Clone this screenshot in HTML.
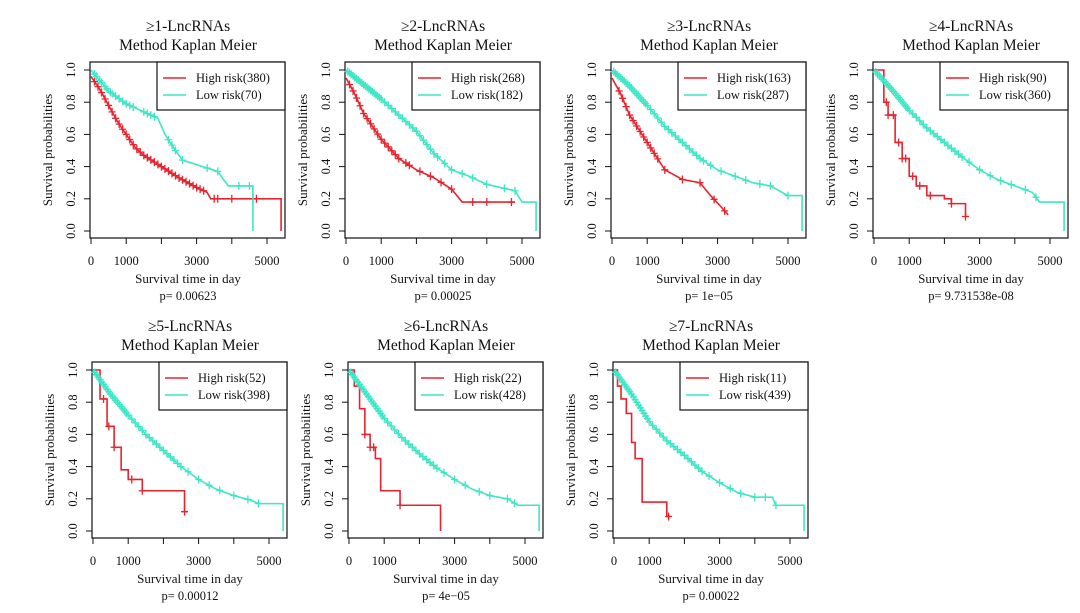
<!DOCTYPE html>
<html><head><meta charset="utf-8"><style>
html,body{margin:0;padding:0;background:#fff;}
svg{display:block;font-family:"Liberation Serif","DejaVu Serif",serif;}
</style></head><body>
<svg id="chart" width="1080" height="613" viewBox="0 0 1080 613"></svg>
<script>
const panelTitles=["≥1-LncRNAs","≥2-LncRNAs","≥3-LncRNAs","≥4-LncRNAs","≥5-LncRNAs","≥6-LncRNAs","≥7-LncRNAs"];
const highCounts=[380,268,163,90,52,22,11];
const lowCounts=[70,182,287,360,398,428,439];
const pValues=["0.00623","0.00025","1e\u221205","9.731538e-08","0.00012","4e\u221205","0.00022"];
const xTickValues=[0,1000,2000,3000,4000,5000];
const xTickLabels=["0","1000","","3000","","5000"];
const yTickValues=[0,0.2,0.4,0.6,0.8,1.0];
const yTickLabels=["0.0","0.2","0.4","0.6","0.8","1.0"];
const highT=[
[0,250,500,750,1000,1250,1500,2000,2500,3000,3300,3400,5400,5400],
[0,250,500,1000,1500,2000,2500,3000,3300,4800],
[0,250,500,1000,1500,2000,2500,2800,3100,3300],
[0,280,400,600,800,1000,1200,1500,2000,2200,2600],
[0,200,400,600,800,1000,1400,2600,2700],
[0,150,300,450,600,750,900,1450,2600,2600],
[0,100,200,350,500,600,800,1500,1600]];
const highS=[
[0.96,0.88,0.78,0.68,0.6,0.52,0.47,0.4,0.33,0.27,0.24,0.2,0.2,0],
[0.95,0.85,0.73,0.57,0.45,0.38,0.33,0.26,0.18,0.18],
[0.95,0.85,0.72,0.55,0.38,0.32,0.3,0.22,0.15,0.1],
[1,0.8,0.72,0.55,0.45,0.34,0.28,0.22,0.2,0.17,0.09],
[1,0.82,0.65,0.52,0.38,0.32,0.25,0.12,0.12],
[1,0.9,0.76,0.6,0.52,0.45,0.25,0.16,0.16,0],
[1,0.9,0.82,0.73,0.55,0.45,0.18,0.09,0.09]];
const highStep=[false,false,false,true,true,true,true];
const highCens=[
[100,200,300,400,500,600,700,800,900,1000,1100,1200,1300,1400,1500,1600,1700,1800,1900,2000,2100,2200,2300,2400,2500,2600,2700,2800,2900,3000,3100,3200,3500,3600,4000,4600,4700],
[100,200,300,400,500,600,700,800,900,1000,1100,1200,1300,1400,1500,1700,1800,2100,2400,2700,3000,3600,4000,4700],
[200,300,400,500,600,700,800,900,1000,1100,1200,1300,1500,2000,2500,2900,3200],
[350,400,550,700,800,900,1100,1300,1600,2200,2600],
[300,450,600,1100,1400,2600],
[450,600,700,1450],
[1550]];
const lowT=[
[0,500,1000,1500,1900,2100,2400,2600,3600,3900,4600,4600],
[0,500,1000,1500,2000,2500,3000,3500,4000,4800,5000,5400,5400],
[0,500,1000,1500,2000,2500,3000,3500,4000,4500,5000,5400,5400],
[0,500,1000,1500,2000,2500,3000,3500,4000,4500,4700,5400,5400],
[0,500,1000,1500,2000,2500,3000,3500,4000,4500,4700,5400,5400],
[0,500,1000,1500,2000,2500,3000,3500,4000,4500,4800,5400,5400],
[0,500,1000,1500,2000,2500,3000,3500,4000,4500,4600,5400,5400]];
const lowS=[
[1,0.87,0.79,0.74,0.7,0.6,0.5,0.44,0.37,0.28,0.28,0],
[1,0.91,0.82,0.72,0.62,0.48,0.38,0.34,0.29,0.25,0.18,0.18,0],
[1,0.9,0.78,0.65,0.55,0.45,0.38,0.34,0.3,0.28,0.22,0.22,0],
[1,0.88,0.75,0.64,0.55,0.46,0.38,0.32,0.28,0.24,0.18,0.18,0],
[1,0.85,0.72,0.6,0.5,0.4,0.32,0.26,0.22,0.19,0.17,0.17,0],
[1,0.85,0.7,0.58,0.48,0.39,0.32,0.26,0.22,0.2,0.16,0.16,0],
[1,0.85,0.68,0.56,0.47,0.37,0.3,0.24,0.21,0.21,0.16,0.16,0]];
const lowCens=[
[100,150,250,300,400,450,550,600,700,800,900,1000,1100,1200,1500,1600,1700,1800,2200,2300,2400,2600,3300,3600,4200,4500],
[50,100,150,200,250,300,350,400,450,500,550,600,650,700,750,800,850,900,950,1000,1100,1200,1300,1400,1500,1600,1700,1800,1900,2000,2100,2200,2300,2400,2500,2600,2800,3000,3300,3600,4000,4500,4800],
[50,100,150,200,250,300,350,400,450,500,550,600,650,700,750,800,850,900,950,1000,1100,1200,1300,1400,1500,1600,1700,1800,1900,2000,2100,2200,2300,2400,2500,2600,2800,3100,3500,3800,4200,4500,5000],
[50,100,150,200,250,300,350,400,450,500,550,600,650,700,750,800,850,900,950,1000,1100,1200,1300,1400,1500,1600,1700,1800,1900,2000,2100,2200,2300,2400,2500,2700,3000,3300,3600,3900,4300,4600],
[50,100,150,200,250,300,350,400,450,500,550,600,650,700,750,800,850,900,950,1000,1100,1200,1300,1400,1500,1600,1700,1800,1900,2000,2100,2200,2300,2400,2500,2700,3000,3300,3600,4000,4400,4700],
[50,100,150,200,250,300,350,400,450,500,550,600,650,700,750,800,850,900,950,1000,1100,1200,1300,1400,1500,1600,1700,1800,1900,2000,2100,2200,2300,2400,2500,2700,3000,3300,3700,4000,4500,4700],
[50,100,150,200,250,300,350,400,450,500,550,600,650,700,750,800,850,900,950,1000,1100,1200,1300,1400,1500,1600,1700,1800,1900,2000,2100,2200,2300,2400,2500,2700,3000,3300,3600,4000,4300,4600]];
const RED="#e8232d", CYAN="#3de6c6";
const offX=[0,255,521,783,2,258,523], offY=[0,0,0,0,300,300,300];
const svg=document.getElementById('chart');
const NS="http://www.w3.org/2000/svg";
function mk(tag,attrs,parent){const e=document.createElementNS(NS,tag);for(const k in attrs)e.setAttribute(k,attrs[k]);parent.appendChild(e);return e;}
function sx(t){return 91+t*0.0352;}
function sy(s){return 231-s*161;}
function survAt(T,S,t){let v=S[0];for(let i=0;i<T.length;i++){if(T[i]<=t)v=S[i];}return v;}
function survLin(T,S,t){for(let i=1;i<T.length;i++){if(t<=T[i]){const a=T[i-1],b=T[i];if(b===a)return S[i-1];return S[i-1]+(S[i]-S[i-1])*(t-a)/(b-a);}}return S[S.length-1];}
for(let p=0;p<7;p++){
 const g=mk('g',{transform:`translate(${offX[p]},${offY[p]})`},svg);
 
 
 let t=mk('text',{x:188,y:31,'text-anchor':'middle','font-size':15.5,fill:'#111'},g);t.textContent=panelTitles[p];
 
 t=mk('text',{x:188,y:50,'text-anchor':'middle','font-size':15.5,fill:'#111'},g);t.textContent="Method Kaplan Meier";
 
 const box=mk('rect',{x:90,y:62,width:195,height:176,fill:'none',stroke:'#111','stroke-width':1.2},g);
 
 const xa=mk('g',{},g);
 mk('line',{x1:sx(0),x2:sx(5000),y1:238,y2:238,stroke:'#111'},xa);
 xTickValues.forEach((v,i)=>{mk('line',{x1:sx(v),x2:sx(v),y1:238,y2:244,stroke:'#111'},xa);
  if(xTickLabels[i]){const l=mk('text',{x:sx(v),y:265,'text-anchor':'middle','font-size':12.5,fill:'#111'},xa);l.textContent=xTickLabels[i];
  }});
 t=mk('text',{x:188,y:283,'text-anchor':'middle','font-size':13,fill:'#111'},g);t.textContent="Survival time in day";
 
 t=mk('text',{x:188,y:300,'text-anchor':'middle','font-size':12.5,fill:'#111'},g);t.textContent="p= "+pValues[p];
 
 const ya=mk('g',{},g);
 mk('line',{x1:90,x2:90,y1:sy(0),y2:sy(1),stroke:'#111'},ya);
 yTickValues.forEach((v,i)=>{mk('line',{x1:84,x2:90,y1:sy(v),y2:sy(v),stroke:'#111'},ya);
  const l=mk('text',{x:75,y:sy(v),'text-anchor':'middle','font-size':12.5,fill:'#111',transform:`rotate(-90 75 ${sy(v)})`},ya);l.textContent=yTickLabels[i];
  });
 t=mk('text',{x:52,y:150,'text-anchor':'middle','font-size':13,fill:'#111',transform:'rotate(-90 52 150)'},g);t.textContent="Survival probabilities";
 
 function drawSeries(T,S,step,cens,col,name){
  const sg=mk('g',{},g);
  let d=`M${sx(T[0])},${sy(S[0])}`;
  for(let i=1;i<T.length;i++){ if(step){d+=` L${sx(T[i])},${sy(S[i-1])} L${sx(T[i])},${sy(S[i])}`;} else {d+=` L${sx(T[i])},${sy(S[i])}`;} }
  const pth=mk('path',{d:d,fill:'none',stroke:col,'stroke-width':1.6},sg);
  
  cens.forEach(c=>{const v=step?survAt(T,S,c):survLin(T,S,c);const x=sx(c),y=sy(v);
   const m=mk('path',{d:`M${x},${y-4}V${y+4}M${x-3.5},${y}H${x+3.5}`,stroke:col,'stroke-width':1.3},sg);
   });
 }
 drawSeries(highT[p],highS[p],highStep[p],highCens[p],RED,'high-risk-curve');
 drawSeries(lowT[p],lowS[p],false,lowCens[p],CYAN,'low-risk-curve');
 const lg=mk('g',{},g);
 mk('rect',{x:157,y:62,width:128,height:48,fill:'#fff',stroke:'#111','stroke-width':1.2},lg);
 const e1=mk('g',{},lg);
 mk('line',{x1:163,x2:186,y1:78,y2:78,stroke:RED,'stroke-width':1.4},e1);
 t=mk('text',{x:196,y:82,'font-size':12.5,fill:'#111'},e1);t.textContent=`High risk(${highCounts[p]})`;
 const e2=mk('g',{},lg);
 mk('line',{x1:163,x2:186,y1:95,y2:95,stroke:CYAN,'stroke-width':1.4},e2);
 t=mk('text',{x:196,y:99,'font-size':12.5,fill:'#111'},e2);t.textContent=`Low risk(${lowCounts[p]})`;
}
</script>
</body></html>
